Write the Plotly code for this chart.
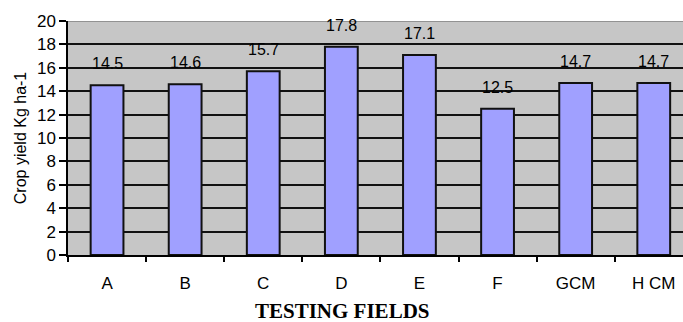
import plotly.graph_objects as go

categories = ["A", "B", "C", "D", "E", "F", "GCM", "H CM"]
values = [14.5, 14.6, 15.7, 17.8, 17.1, 12.5, 14.7, 14.7]
value_labels = ["14.5", "14.6", "15.7", "17.8", "17.1", "12.5", "14.7", "14.7"]
y_ticks = [0, 2, 4, 6, 8, 10, 12, 14, 16, 18, 20]

W, H = 683, 322
L, R, T, B = 68, 0, 21, 67

fig = go.Figure()
fig.add_trace(go.Bar(
    x=categories, y=values,
    width=0.42,
    marker=dict(color="#A0A0FF", line=dict(color="#111111", width=2)),
    hoverinfo="skip",
))

for c, v, t in zip(categories, values, value_labels):
    fig.add_annotation(x=c, y=v, text=t, showarrow=False, xanchor="center",
                       yanchor="bottom", yshift=11,
                       font=dict(family="Liberation Sans, Arial", size=16, color="black"))

# x title centred on the page
fig.add_annotation(xref="paper", yref="paper",
                   x=(W / 2 - L) / (W - L - R), y=-(297 - 255) / (322 - T - B),
                   xanchor="center", yanchor="top", showarrow=False,
                   text="<b>TESTING FIELDS</b>",
                   font=dict(family="Liberation Serif, Times New Roman", size=21, color="black"))

# grey top border of plot area
fig.add_shape(type="line", xref="paper", yref="y", x0=0, x1=1, y0=20, y1=20,
              line=dict(color="#808080", width=1.5))

fig.update_layout(
    width=W, height=H,
    margin=dict(l=L, r=R, t=T, b=B, pad=0),
    paper_bgcolor="white",
    plot_bgcolor="#C6C6C6",
    showlegend=False,
    font=dict(family="Liberation Sans, Arial", size=16, color="black"),
)
fig.update_xaxes(
    type="category",
    range=[-0.5, -0.5 + (W - L - R) / 78.1],
    showgrid=False,
    showline=True, linecolor="black", linewidth=1.5,
    ticks="outside", tickson="boundaries", ticklen=5, tickwidth=1.5, tickcolor="black",
    tickfont=dict(size=17),
    ticklabelstandoff=12,
    fixedrange=True,
)
fig.update_yaxes(
    range=[0, 20],
    tickvals=y_ticks,
    showgrid=True, gridcolor="#111111", gridwidth=2,
    zeroline=False,
    showline=True, linecolor="black", linewidth=1.5,
    ticks="outside", ticklen=7, tickwidth=1.5, tickcolor="black",
    tickfont=dict(size=17),
    title=dict(text="Crop yield Kg ha-1", font=dict(size=16), standoff=6),
    fixedrange=True,
)

fig.write_html("out.html", config={"displayModeBar": False},
               post_script="document.body.style.margin='0';document.body.style.overflow='hidden';")
